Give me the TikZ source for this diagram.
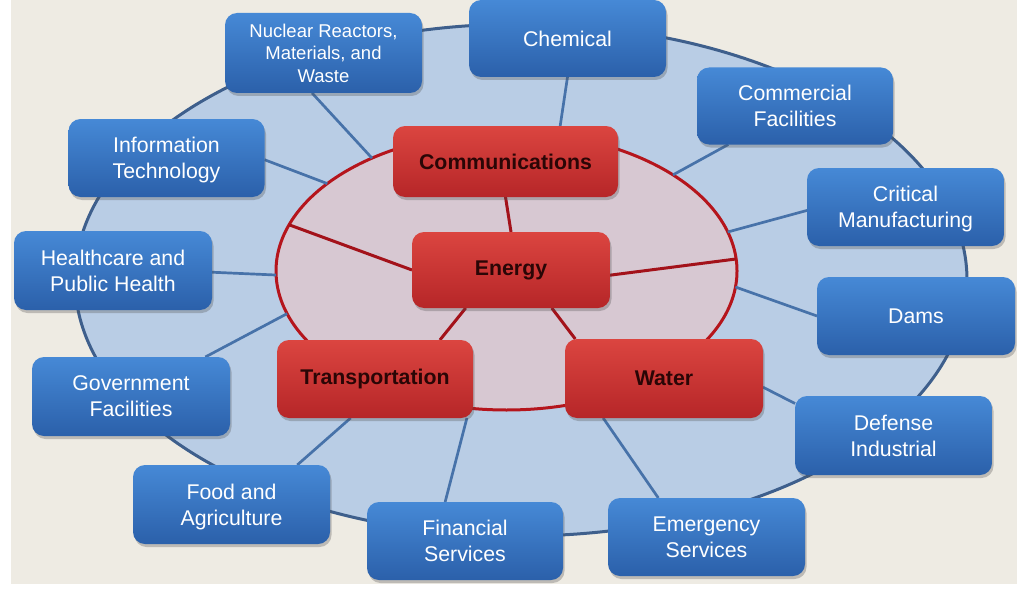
\documentclass[tikz,border=0pt]{standalone}
\usepackage{fontspec}
\setmainfont{Liberation Sans}
\usetikzlibrary{shadows,shapes.geometric}
\definecolor{bgc}{HTML}{EEEBE3}
\definecolor{outerfill}{HTML}{B9CDE5}
\definecolor{outerline}{HTML}{3E5F8C}
\definecolor{innerfill}{HTML}{D7C8D2}
\definecolor{innerline}{HTML}{B5151C}
\definecolor{bluetop}{HTML}{4689D6}
\definecolor{bluebot}{HTML}{2B60AA}
\definecolor{redtop}{HTML}{DB4540}
\definecolor{redbot}{HTML}{B62628}
\definecolor{bluelink}{HTML}{4772A9}
\definecolor{redlink}{HTML}{A3121A}
\definecolor{redtext}{HTML}{2A0606}
\pgfdeclarelayer{bglayer}
\pgfdeclarelayer{linklayer}
\pgfsetlayers{bglayer,linklayer,main}
\begin{document}
\begin{tikzpicture}[x=1pt,y=-1pt,
  sector/.style={rectangle, rounded corners=12pt, minimum width=196pt, minimum height=78pt,
    inner sep=0pt, outer sep=0pt, top color=bluetop, bottom color=bluebot, text=white, align=center,
    font=\fontsize{21.3}{26}\selectfont,
    drop shadow={shadow xshift=1.5pt, shadow yshift=-3pt, opacity=0.3, fill=black!70}},
  core/.style={rectangle, rounded corners=12pt, minimum width=196pt, minimum height=78pt,
    inner sep=0pt, outer sep=0pt, top color=redtop, bottom color=redbot, text=redtext, align=center,
    font=\bfseries\fontsize{21.3}{26}\selectfont,
    drop shadow={shadow xshift=1.5pt, shadow yshift=-3pt, opacity=0.3, fill=black!70}},
  ring/.style={ellipse, inner sep=0pt, outer sep=0pt},
  bluelinkst/.style={draw=bluelink, line width=2.7pt},
  redlinkst/.style={draw=redlink, line width=3pt}]

\useasboundingbox (0,0) rectangle (1024,591);

\begin{pgfonlayer}{bglayer}
  \fill[white] (0,0) rectangle (1024,591);
  \fill[bgc] (11,0) rectangle (1017,584);
  \node[ring, draw=outerline, line width=3pt, fill=outerfill,
        minimum width=892pt, minimum height=512pt] (outer) at (521,280) {};
  \node[ring, draw=innerline, line width=3pt, fill=innerfill,
        minimum width=461pt, minimum height=278pt] (inner) at (506.5,271) {};
\end{pgfonlayer}

% blue sectors
\node[sector, minimum width=197pt, minimum height=80pt,
      font=\fontsize{18.5}{22.5}\selectfont] (nuc) at (323.5,53) {Nuclear Reactors,\\Materials, and\\Waste};
\node[sector, minimum width=197pt, minimum height=77pt] (chem) at (567.5,38.5) {Chemical};
\node[sector, minimum height=77pt] (comm) at (795,106) {Commercial\\Facilities};
\node[sector] (it) at (166.5,158) {Information\\\smash{Technology}};
\node[sector, minimum width=197pt] (crit) at (905.5,207) {Critical\\\smash{Manufacturing}};
\node[sector, minimum width=198pt, minimum height=79pt] (health) at (113,270.5) {Healthcare and\\Public Health};
\node[sector, minimum width=198pt] (dams) at (916,316) {Dams};
\node[sector, minimum width=198pt, minimum height=79pt] (gov) at (131,396.5) {Government\\Facilities};
\node[sector, minimum width=197pt, minimum height=79pt] (def) at (893.5,435.5) {Defense\\Industrial};
\node[sector, minimum width=197pt, minimum height=79pt] (food) at (231.5,504.5) {Food and\\\smash{Agriculture}};
\node[sector] (fin) at (465,541) {Financial\\Services};
\node[sector, minimum width=197pt] (emer) at (706.5,537) {Emergency\\Services};

% red core sectors
\node[core, minimum width=225pt, minimum height=71pt] (commu) at (505.5,161.5) {Communications};
\node[core, minimum width=198pt, minimum height=76pt] (energy) at (511,270) {Energy};
\node[core] (trans) at (375,379) {Transportation};
\node[core, minimum width=198pt, minimum height=79pt] (water) at (664,378.5) {Water};

\begin{pgfonlayer}{linklayer}
  % blue connectors
  \draw[bluelinkst] (nuc.254) -- (inner.140.8);
  \draw[bluelinkst] (chem.south) -- (commu.33);
  \draw[bluelinkst] (comm.210) -- (inner.30.1);
  \draw[bluelinkst] (it.-1) -- (inner.154.1);
  \draw[bluelinkst] (crit.182) -- (inner.10.4);
  \draw[bluelinkst] (health.-1) -- (inner.181.2);
  \draw[bluelinkst] (dams.west) -- (inner.-4.7);
  \draw[bluelinkst] (gov.28) -- (inner.191.8);
  \draw[bluelinkst] (water.-5.5) -- (def.162);
  \draw[bluelinkst] (food.31) -- (trans.238);
  \draw[bluelinkst] (fin.117) -- (trans.-23);
  \draw[bluelinkst] (emer.141) -- (water.213);
  % red connectors
  \draw[redlinkst] (commu.south) -- (energy.north);
  \draw[redlinkst] (energy.west) -- (inner.168.8);
  \draw[redlinkst] (energy.-3) -- (inner.3.2);
  \draw[redlinkst] (energy.220) -- (trans.31);
  \draw[redlinkst] (energy.-43) -- (water.156);
\end{pgfonlayer}
\end{tikzpicture}
\end{document}
